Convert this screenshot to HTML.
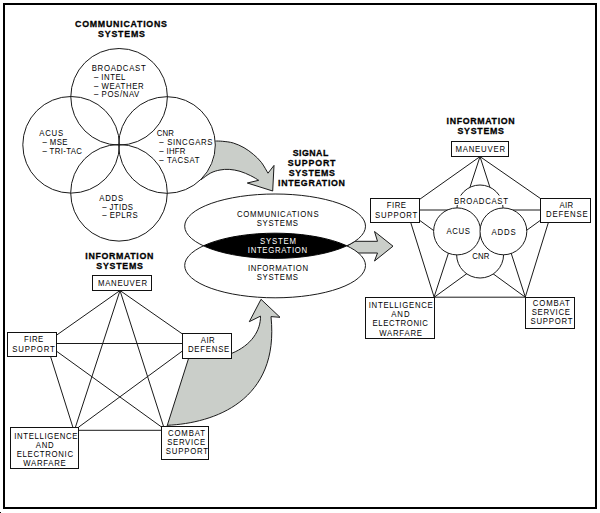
<!DOCTYPE html>
<html><head><meta charset="utf-8"><style>
html,body{margin:0;padding:0;background:#fff;width:600px;height:513px;overflow:hidden}
svg{display:block}
text{font-family:"Liberation Sans",sans-serif}
</style></head><body>
<svg width="600" height="513" viewBox="0 0 600 513">
<rect x="0" y="0" width="600" height="513" fill="#fff"/>
<rect x="4" y="4" width="592" height="504" fill="none" stroke="#000" stroke-width="2"/>
<rect x="0" y="512" width="1" height="1" fill="#000"/>
<path d="M215.30,141.00 C216.53,141.05 219.70,140.97 222.70,141.30 C225.70,141.63 229.75,141.93 233.30,143.00 C236.85,144.07 240.67,145.82 244.00,147.70 C247.33,149.58 250.42,151.87 253.30,154.30 C256.18,156.73 258.85,159.15 261.30,162.30 C263.75,165.45 266.88,171.38 268.00,173.20 L274,165.4 L272.7,191 L247.3,183 L258.70,180.30 C257.37,179.53 253.82,177.20 250.70,175.70 C247.58,174.20 243.57,172.35 240.00,171.30 C236.43,170.25 232.63,169.62 229.30,169.40 C225.97,169.18 223.10,169.40 220.00,170.00 C216.90,170.60 213.87,171.38 210.70,173.00 C207.53,174.62 202.62,178.58 201.00,179.70 A48.3,48.3 0 0,0 215.3,141 Z" fill="#cacec9"/>
<path d="M215.30,141.00 C216.53,141.05 219.70,140.97 222.70,141.30 C225.70,141.63 229.75,141.93 233.30,143.00 C236.85,144.07 240.67,145.82 244.00,147.70 C247.33,149.58 250.42,151.87 253.30,154.30 C256.18,156.73 258.85,159.15 261.30,162.30 C263.75,165.45 266.88,171.38 268.00,173.20 L274,165.4 L272.7,191 L247.3,183 L258.70,180.30 C257.37,179.53 253.82,177.20 250.70,175.70 C247.58,174.20 243.57,172.35 240.00,171.30 C236.43,170.25 232.63,169.62 229.30,169.40 C225.97,169.18 223.10,169.40 220.00,170.00 C216.90,170.60 213.87,171.38 210.70,173.00 C207.53,174.62 202.62,178.58 201.00,179.70" fill="none" stroke="#1a1a1a" stroke-width="1"/>
<circle cx="119.1" cy="96.8" r="48.3" fill="none" stroke="#1a1a1a" stroke-width="1"/>
<circle cx="71.1" cy="144.8" r="48.3" fill="none" stroke="#1a1a1a" stroke-width="1"/>
<circle cx="167.0" cy="145.0" r="48.3" fill="none" stroke="#1a1a1a" stroke-width="1"/>
<circle cx="119.0" cy="192.8" r="48.3" fill="none" stroke="#1a1a1a" stroke-width="1"/>
<path d="M347,246 L355,241.3 L377.5,241.3 L374.5,231.5 L393,246.2 L374.5,261 L377.5,253 L355,253 Z" fill="#cacec9" stroke="#1a1a1a" stroke-width="1"/>
<path d="M271,316.6 C279.78,401.15 213.88,423.19 167.3,425.3 L188.7,358 L231.6,358 L231.6,353.4 C251.71,345.17 260.73,330.35 260.5,316.1 L249.3,321.7 L261,299.3 L280,317.3 Z" fill="#cacec9"/>
<path d="M231.6,353.4 C251.71,345.17 260.73,330.35 260.5,316.1 L249.3,321.7 L261,299.3 L280,317.3 L271,316.6 C279.78,401.15 213.88,423.19 167.3,425.3" fill="none" stroke="#1a1a1a" stroke-width="1"/>
<defs><clipPath id="cu"><ellipse cx="275.1" cy="226.2" rx="90.4" ry="32.2"/></clipPath></defs>
<ellipse cx="275.1" cy="265.5" rx="90.4" ry="32.3" fill="#fff" stroke="#1a1a1a" stroke-width="1"/>
<ellipse cx="275.1" cy="226.2" rx="90.4" ry="32.2" fill="#fff" stroke="#1a1a1a" stroke-width="1"/>
<ellipse cx="275.1" cy="265.5" rx="90.4" ry="32.3" fill="#000" stroke="#000" stroke-width="1" clip-path="url(#cu)"/>
<line x1="120" y1="290.5" x2="56.5" y2="335.2" stroke="#1a1a1a" stroke-width="1"/>
<line x1="120" y1="290.5" x2="182" y2="333.7" stroke="#1a1a1a" stroke-width="1"/>
<line x1="120" y1="290.5" x2="75.4" y2="427.3" stroke="#1a1a1a" stroke-width="1"/>
<line x1="120" y1="290.5" x2="163.7" y2="426.9" stroke="#1a1a1a" stroke-width="1"/>
<line x1="56.5" y1="343.5" x2="182" y2="343.5" stroke="#1a1a1a" stroke-width="1"/>
<line x1="56.5" y1="351.2" x2="161.4" y2="426.9" stroke="#1a1a1a" stroke-width="1"/>
<line x1="50.5" y1="356.3" x2="72.9" y2="427.3" stroke="#1a1a1a" stroke-width="1"/>
<line x1="182" y1="351.3" x2="78.4" y2="427.3" stroke="#1a1a1a" stroke-width="1"/>
<line x1="188.7" y1="358" x2="166.8" y2="426.9" stroke="#1a1a1a" stroke-width="1"/>
<line x1="78.8" y1="430.3" x2="161.4" y2="430.3" stroke="#1a1a1a" stroke-width="1"/>
<line x1="480" y1="156.6" x2="419.7" y2="199.3" stroke="#1a1a1a" stroke-width="1"/>
<line x1="480" y1="156.6" x2="540.3" y2="198.4" stroke="#1a1a1a" stroke-width="1"/>
<line x1="419.7" y1="210" x2="540.3" y2="210" stroke="#1a1a1a" stroke-width="1"/>
<line x1="419.7" y1="220.4" x2="525.3" y2="297.2" stroke="#1a1a1a" stroke-width="1"/>
<line x1="540.3" y1="220.4" x2="434.3" y2="297.2" stroke="#1a1a1a" stroke-width="1"/>
<line x1="480" y1="156.6" x2="434.1" y2="297" stroke="#1a1a1a" stroke-width="1"/>
<line x1="480" y1="156.6" x2="525.3" y2="297" stroke="#1a1a1a" stroke-width="1"/>
<line x1="410.7" y1="222.4" x2="434.1" y2="297" stroke="#1a1a1a" stroke-width="1"/>
<line x1="548.4" y1="222.4" x2="525.3" y2="297" stroke="#1a1a1a" stroke-width="1"/>
<line x1="434.5" y1="297.2" x2="525.3" y2="297.2" stroke="#1a1a1a" stroke-width="1"/>
<circle cx="480" cy="208" r="23" fill="#fff" stroke="#1a1a1a" stroke-width="1"/>
<circle cx="480.1" cy="254.5" r="23.5" fill="#fff" stroke="#1a1a1a" stroke-width="1"/>
<circle cx="457.1" cy="231.4" r="23.5" fill="#fff" stroke="#1a1a1a" stroke-width="1"/>
<circle cx="503.4" cy="231.4" r="23.4" fill="#fff" stroke="#1a1a1a" stroke-width="1"/>
<rect x="453" y="195.6" width="57" height="9.4" fill="#fff"/>
<rect x="92.50" y="275.50" width="59.00" height="15.00" fill="#fff" stroke="#111" stroke-width="1"/>
<rect x="7.50" y="332.50" width="49.00" height="24.00" fill="#fff" stroke="#111" stroke-width="1"/>
<rect x="182.50" y="333.50" width="49.00" height="25.00" fill="#fff" stroke="#111" stroke-width="1"/>
<rect x="10.50" y="427.50" width="68.00" height="41.00" fill="#fff" stroke="#111" stroke-width="1"/>
<rect x="161.50" y="426.50" width="47.00" height="33.00" fill="#fff" stroke="#111" stroke-width="1"/>
<rect x="451.50" y="141.50" width="57.00" height="15.00" fill="#fff" stroke="#111" stroke-width="1"/>
<rect x="370.50" y="198.50" width="49.00" height="24.00" fill="#fff" stroke="#111" stroke-width="1"/>
<rect x="540.50" y="198.50" width="50.00" height="24.00" fill="#fff" stroke="#111" stroke-width="1"/>
<rect x="365.50" y="297.50" width="69.00" height="41.00" fill="#fff" stroke="#111" stroke-width="1"/>
<rect x="525.50" y="297.50" width="49.00" height="31.00" fill="#fff" stroke="#111" stroke-width="1"/>
<text transform="translate(75.00,27.20) scale(0.9,1)" textLength="102.22" lengthAdjust="spacing" font-size="9.8" font-weight="bold" fill="#000" stroke="#000" stroke-width="0.3">COMMUNICATIONS</text>
<text transform="translate(98.00,36.80) scale(0.9,1)" textLength="52.22" lengthAdjust="spacing" font-size="9.8" font-weight="bold" fill="#000" stroke="#000" stroke-width="0.3">SYSTEMS</text>
<text transform="translate(292.80,155.60) scale(0.9,1)" textLength="39.44" lengthAdjust="spacing" font-size="9.8" font-weight="bold" fill="#000" stroke="#000" stroke-width="0.3">SIGNAL</text>
<text transform="translate(287.80,165.60) scale(0.9,1)" textLength="53.00" lengthAdjust="spacing" font-size="9.8" font-weight="bold" fill="#000" stroke="#000" stroke-width="0.3">SUPPORT</text>
<text transform="translate(288.70,176.10) scale(0.9,1)" textLength="51.44" lengthAdjust="spacing" font-size="9.8" font-weight="bold" fill="#000" stroke="#000" stroke-width="0.3">SYSTEMS</text>
<text transform="translate(278.00,185.60) scale(0.9,1)" textLength="74.44" lengthAdjust="spacing" font-size="9.8" font-weight="bold" fill="#000" stroke="#000" stroke-width="0.3">INTEGRATION</text>
<text transform="translate(85.30,259.00) scale(0.9,1)" textLength="75.56" lengthAdjust="spacing" font-size="9.8" font-weight="bold" fill="#000" stroke="#000" stroke-width="0.3">INFORMATION</text>
<text transform="translate(96.30,269.00) scale(0.9,1)" textLength="51.89" lengthAdjust="spacing" font-size="9.8" font-weight="bold" fill="#000" stroke="#000" stroke-width="0.3">SYSTEMS</text>
<text transform="translate(446.60,123.80) scale(0.9,1)" textLength="75.56" lengthAdjust="spacing" font-size="9.8" font-weight="bold" fill="#000" stroke="#000" stroke-width="0.3">INFORMATION</text>
<text transform="translate(457.40,134.40) scale(0.9,1)" textLength="51.78" lengthAdjust="spacing" font-size="9.8" font-weight="bold" fill="#000" stroke="#000" stroke-width="0.3">SYSTEMS</text>
<text transform="translate(91.70,70.60) scale(0.82,1)" textLength="65.85" lengthAdjust="spacing" font-size="9.5" font-weight="normal" fill="#000">BROADCAST</text>
<text transform="translate(93.90,79.60) scale(0.82,1)" textLength="38.41" lengthAdjust="spacing" font-size="9.5" font-weight="normal" fill="#000">– INTEL</text>
<text transform="translate(93.90,88.60) scale(0.82,1)" textLength="60.61" lengthAdjust="spacing" font-size="9.5" font-weight="normal" fill="#000">– WEATHER</text>
<text transform="translate(93.90,97.40) scale(0.82,1)" textLength="55.37" lengthAdjust="spacing" font-size="9.5" font-weight="normal" fill="#000">– POS/NAV</text>
<text transform="translate(39.20,135.70) scale(0.82,1)" textLength="29.27" lengthAdjust="spacing" font-size="9.5" font-weight="normal" fill="#000">ACUS</text>
<text transform="translate(42.40,144.70) scale(0.82,1)" textLength="30.61" lengthAdjust="spacing" font-size="9.5" font-weight="normal" fill="#000">– MSE</text>
<text transform="translate(42.40,153.70) scale(0.82,1)" textLength="48.17" lengthAdjust="spacing" font-size="9.5" font-weight="normal" fill="#000">– TRI-TAC</text>
<text transform="translate(156.70,136.10) scale(0.82,1)" textLength="20.98" lengthAdjust="spacing" font-size="9.5" font-weight="normal" fill="#000">CNR</text>
<text transform="translate(159.30,145.30) scale(0.82,1)" textLength="64.88" lengthAdjust="spacing" font-size="9.5" font-weight="normal" fill="#000">– SINCGARS</text>
<text transform="translate(159.30,154.30) scale(0.82,1)" textLength="31.95" lengthAdjust="spacing" font-size="9.5" font-weight="normal" fill="#000">– IHFR</text>
<text transform="translate(159.30,163.10) scale(0.82,1)" textLength="49.15" lengthAdjust="spacing" font-size="9.5" font-weight="normal" fill="#000">– TACSAT</text>
<text transform="translate(99.20,200.60) scale(0.82,1)" textLength="29.27" lengthAdjust="spacing" font-size="9.5" font-weight="normal" fill="#000">ADDS</text>
<text transform="translate(102.20,209.60) scale(0.82,1)" textLength="37.44" lengthAdjust="spacing" font-size="9.5" font-weight="normal" fill="#000">– JTIDS</text>
<text transform="translate(102.20,218.40) scale(0.82,1)" textLength="43.17" lengthAdjust="spacing" font-size="9.5" font-weight="normal" fill="#000">– EPLRS</text>
<text transform="translate(236.90,217.10) scale(0.82,1)" textLength="99.63" lengthAdjust="spacing" font-size="9.5" font-weight="normal" fill="#000">COMMUNICATIONS</text>
<text transform="translate(256.70,225.70) scale(0.82,1)" textLength="50.37" lengthAdjust="spacing" font-size="9.5" font-weight="normal" fill="#000">SYSTEMS</text>
<text transform="translate(260.00,243.70) scale(0.82,1)" textLength="43.90" lengthAdjust="spacing" font-size="9.5" font-weight="normal" fill="#fff">SYSTEM</text>
<text transform="translate(247.80,252.50) scale(0.82,1)" textLength="72.32" lengthAdjust="spacing" font-size="9.5" font-weight="normal" fill="#fff">INTEGRATION</text>
<text transform="translate(247.90,271.20) scale(0.82,1)" textLength="73.29" lengthAdjust="spacing" font-size="9.5" font-weight="normal" fill="#000">INFORMATION</text>
<text transform="translate(256.70,280.00) scale(0.82,1)" textLength="50.37" lengthAdjust="spacing" font-size="9.5" font-weight="normal" fill="#000">SYSTEMS</text>
<text transform="translate(98.00,285.80) scale(0.82,1)" textLength="59.76" lengthAdjust="spacing" font-size="9.5" font-weight="normal" fill="#000">MANEUVER</text>
<text transform="translate(24.00,342.40) scale(0.82,1)" textLength="23.54" lengthAdjust="spacing" font-size="9.5" font-weight="normal" fill="#000">FIRE</text>
<text transform="translate(12.30,352.00) scale(0.82,1)" textLength="51.71" lengthAdjust="spacing" font-size="9.5" font-weight="normal" fill="#000">SUPPORT</text>
<text transform="translate(200.70,343.00) scale(0.82,1)" textLength="17.07" lengthAdjust="spacing" font-size="9.5" font-weight="normal" fill="#000">AIR</text>
<text transform="translate(188.00,352.40) scale(0.82,1)" textLength="50.37" lengthAdjust="spacing" font-size="9.5" font-weight="normal" fill="#000">DEFENSE</text>
<text transform="translate(14.20,439.20) scale(0.82,1)" textLength="77.20" lengthAdjust="spacing" font-size="9.5" font-weight="normal" fill="#000">INTELLIGENCE</text>
<text transform="translate(35.80,447.50) scale(0.82,1)" textLength="21.83" lengthAdjust="spacing" font-size="9.5" font-weight="normal" fill="#000">AND</text>
<text transform="translate(16.70,456.70) scale(0.82,1)" textLength="68.66" lengthAdjust="spacing" font-size="9.5" font-weight="normal" fill="#000">ELECTRONIC</text>
<text transform="translate(23.30,465.50) scale(0.82,1)" textLength="51.83" lengthAdjust="spacing" font-size="9.5" font-weight="normal" fill="#000">WARFARE</text>
<text transform="translate(168.00,436.20) scale(0.82,1)" textLength="45.12" lengthAdjust="spacing" font-size="9.5" font-weight="normal" fill="#000">COMBAT</text>
<text transform="translate(167.20,445.00) scale(0.82,1)" textLength="46.46" lengthAdjust="spacing" font-size="9.5" font-weight="normal" fill="#000">SERVICE</text>
<text transform="translate(165.80,453.80) scale(0.82,1)" textLength="51.46" lengthAdjust="spacing" font-size="9.5" font-weight="normal" fill="#000">SUPPORT</text>
<text transform="translate(455.40,152.00) scale(0.82,1)" textLength="60.49" lengthAdjust="spacing" font-size="9.5" font-weight="normal" fill="#000">MANEUVER</text>
<text transform="translate(386.70,208.40) scale(0.82,1)" textLength="23.54" lengthAdjust="spacing" font-size="9.5" font-weight="normal" fill="#000">FIRE</text>
<text transform="translate(375.00,217.70) scale(0.82,1)" textLength="51.59" lengthAdjust="spacing" font-size="9.5" font-weight="normal" fill="#000">SUPPORT</text>
<text transform="translate(559.60,207.70) scale(0.82,1)" textLength="16.34" lengthAdjust="spacing" font-size="9.5" font-weight="normal" fill="#000">AIR</text>
<text transform="translate(546.00,216.70) scale(0.82,1)" textLength="50.85" lengthAdjust="spacing" font-size="9.5" font-weight="normal" fill="#000">DEFENSE</text>
<text transform="translate(368.70,308.30) scale(0.82,1)" textLength="78.17" lengthAdjust="spacing" font-size="9.5" font-weight="normal" fill="#000">INTELLIGENCE</text>
<text transform="translate(391.20,317.20) scale(0.82,1)" textLength="22.32" lengthAdjust="spacing" font-size="9.5" font-weight="normal" fill="#000">AND</text>
<text transform="translate(372.50,326.30) scale(0.82,1)" textLength="67.68" lengthAdjust="spacing" font-size="9.5" font-weight="normal" fill="#000">ELECTRONIC</text>
<text transform="translate(379.20,335.50) scale(0.82,1)" textLength="52.20" lengthAdjust="spacing" font-size="9.5" font-weight="normal" fill="#000">WARFARE</text>
<text transform="translate(532.80,305.80) scale(0.82,1)" textLength="45.00" lengthAdjust="spacing" font-size="9.5" font-weight="normal" fill="#000">COMBAT</text>
<text transform="translate(531.70,315.00) scale(0.82,1)" textLength="46.71" lengthAdjust="spacing" font-size="9.5" font-weight="normal" fill="#000">SERVICE</text>
<text transform="translate(530.50,323.70) scale(0.82,1)" textLength="51.22" lengthAdjust="spacing" font-size="9.5" font-weight="normal" fill="#000">SUPPORT</text>
<text transform="translate(454.00,204.00) scale(0.82,1)" textLength="65.85" lengthAdjust="spacing" font-size="9.5" font-weight="normal" fill="#000">BROADCAST</text>
<text transform="translate(446.50,234.00) scale(0.82,1)" textLength="28.66" lengthAdjust="spacing" font-size="9.5" font-weight="normal" fill="#000">ACUS</text>
<text transform="translate(491.40,234.80) scale(0.82,1)" textLength="29.70" lengthAdjust="spacing" font-size="9.5" font-weight="normal" fill="#000">ADDS</text>
<text transform="translate(472.30,258.70) scale(0.82,1)" textLength="20.98" lengthAdjust="spacing" font-size="9.5" font-weight="normal" fill="#000">CNR</text>
</svg>
</body></html>
